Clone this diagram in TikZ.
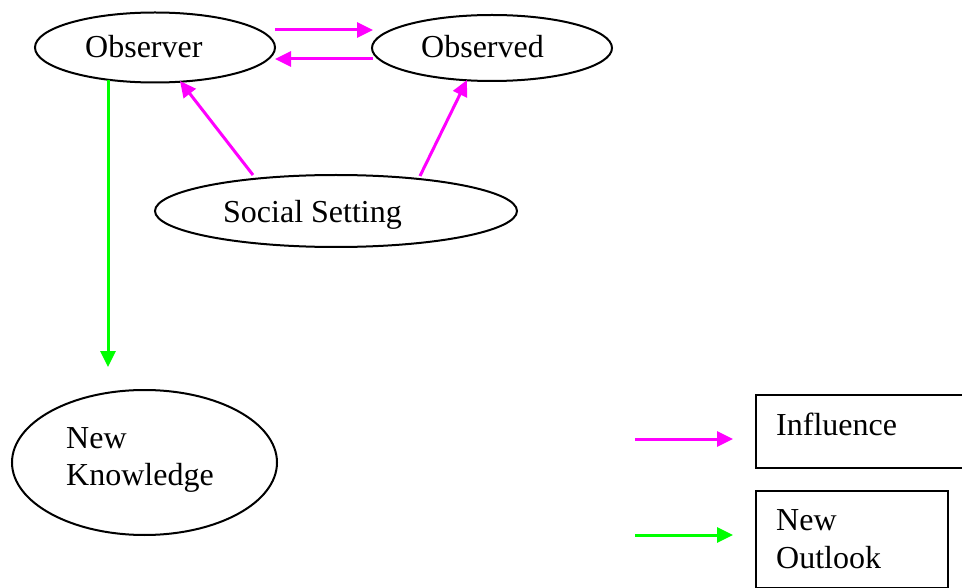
\documentclass[tikz,border=0pt]{standalone}
\usepackage{fontspec}
\setmainfont{Liberation Serif}
\usetikzlibrary{shapes.geometric,arrows.meta}
\definecolor{pinkarr}{RGB}{255,0,255}
\definecolor{greenarr}{RGB}{0,255,0}
\begin{document}
\begin{tikzpicture}[x=1pt,y=-1pt,
  oval/.style={draw,line width=2pt,ellipse,inner sep=0pt},
  lbl/.style={anchor=base west,inner sep=0pt,font=\fontsize{32}{37}\selectfont},
  legbox/.style={draw,line width=2pt,anchor=north west,inner sep=0pt},
  pinkline/.style={draw=pinkarr,line width=3pt,-{Triangle[length=16pt,width=15pt]}},
  greenline/.style={draw=greenarr,line width=3pt,-{Triangle[length=16pt,width=15pt]}}]
\useasboundingbox (0,0) rectangle (962,588);
% ellipses
\node[oval,minimum width=240pt,minimum height=70pt] (obs) at (155,47.5) {};
\node[oval,minimum width=240pt,minimum height=66pt] (obd) at (492,48) {};
\node[oval,minimum width=362pt,minimum height=72pt] (soc) at (336,211) {};
\node[oval,minimum width=265pt,minimum height=145pt] (nk) at (144.5,462.5) {};
% texts
\node[lbl] (tobs) at (85,58) {Observer};
\node[lbl] (tobd) at (421,58) {Observed};
\node[lbl] (tsoc) at (223,223) {Social Setting};
\node[lbl] (tnk1) at (66,448) {New};
\node[lbl] (tnk2) at (66,485) {Knowledge};
% legend boxes
\node[legbox,minimum width=207pt,minimum height=73pt] (bin) at (755,394) {};
\node[legbox,minimum width=192pt,minimum height=97pt] (bno) at (755,490) {};
\node[lbl] (tin) at (776,435) {Influence};
\node[lbl] (tno1) at (776,530) {New};
\node[lbl] (tno2) at (776,568) {Outlook};
% arrow endpoints
\coordinate (a1s) at (275,30);
\coordinate (a1e) at (373,30);
\coordinate (a2s) at (373,59);
\coordinate (a2e) at (275,59);
\coordinate (a3s) at (253,175);
\coordinate (a3e) at (180,81);
\coordinate (a4s) at (420,176);
\coordinate (a4e) at (467,80);
\coordinate (g1s) at (108,80);
\coordinate (g1e) at (108,367);
\coordinate (l1s) at (635,439);
\coordinate (l1e) at (733,439);
\coordinate (l2s) at (635,535);
\coordinate (l2e) at (733,535);
% arrows
\draw[pinkline] (a1s) -- (a1e);
\draw[pinkline] (a2s) -- (a2e);
\draw[pinkline] (a3s) -- (a3e);
\draw[pinkline] (a4s) -- (a4e);
\draw[greenline] (g1s) -- (g1e);
\draw[pinkline] (l1s) -- (l1e);
\draw[greenline] (l2s) -- (l2e);
\end{tikzpicture}
\end{document}
